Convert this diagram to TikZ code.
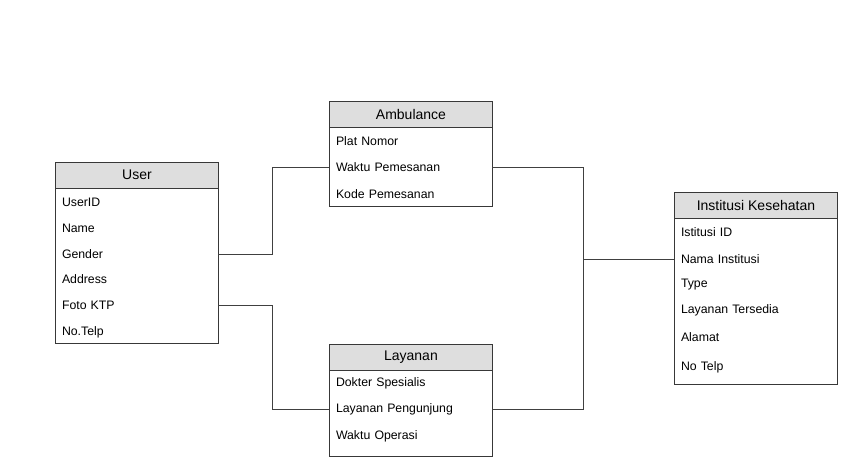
\documentclass[tikz,border=0pt]{standalone}
\usepackage{fontspec}
\setmainfont{Liberation Sans}
\begin{document}
\begin{tikzpicture}[x=1pt,y=-1pt,
  box/.style={draw=black!78, line width=0.9pt, fill=white, inner sep=0pt, anchor=north west, minimum width=162.4pt},
  hdr/.style={draw=black!78, line width=0.9pt, fill=black!13, inner sep=0pt, anchor=north west, minimum width=162.4pt, minimum height=26pt, font=\fontsize{14}{16}\selectfont, text=black},
  row/.style={anchor=west, inner xsep=6.5pt, inner ysep=0pt, text width=149.4pt, align=left, font=\fontsize{12.3}{14}\selectfont, text=black},
  conn/.style={draw=black!75, line width=0.9pt}]
\fill[white] (0,0) rectangle (847,464);
\useasboundingbox (0,0) rectangle (847,464);

% User
\node[box, minimum height=181.6pt] (user) at (55.3,161.7) {};
\node[hdr] (userh) at (55.3,161.7) {User};
\node[row] (u1) at (55.3,202) {UserID};
\node[row] (u2) at (55.3,228.5) {Name};
\node[row] (u3) at (55.3,254.3) {Gender};
\node[row] (u4) at (55.3,279.5) {Address};
\node[row] (u5) at (55.3,305.3) {Foto KTP};
\node[row] (u6) at (55.3,332.5) {No.Telp};

% Ambulance
\node[box, minimum height=105.3pt] (amb) at (329.3,100.7) {};
\node[hdr] (ambh) at (329.3,100.7) {Ambulance};
\node[row] (a1) at (329.3,141) {Plat Nomor};
\node[row] (a2) at (329.3,167.3) {Waktu Pemesanan};
\node[row] (a3) at (329.3,193.7) {Kode Pemesanan};

% Layanan
\node[box, minimum height=111.7pt] (lay) at (329.3,344) {};
\node[hdr] (layh) at (329.3,344) {Layanan};
\node[row] (l1) at (329.3,383.3) {Dokter Spesialis};
\node[row] (l2) at (329.3,409.5) {Layanan Pengunjung};
\node[row] (l3) at (329.3,436.7) {Waktu Operasi};

% Institusi Kesehatan
\node[box, minimum height=191.7pt] (ins) at (674.3,192.3) {};
\node[hdr] (insh) at (674.3,192.3) {Institusi Kesehatan};
\node[row] (i1) at (674.3,232.3) {Istitusi ID};
\node[row] (i2) at (674.3,259) {Nama Institusi};
\node[row] (i3) at (674.3,285) {Type};
\node[row] (i4) at (674.3,310.7) {Layanan Tersedia};
\node[row] (i5) at (674.3,336.7) {Alamat};
\node[row] (i6) at (674.3,367.7) {No Telp};

% connectors
\coordinate (hub) at (583.7,259);
\draw[conn] (u3.east) -- ++(54.6,0) |- (a2.west);
\draw[conn] (u5.east) -- ++(54.6,0) |- (l2.west);
\draw[conn] (a2.east) -| (hub) |- (l2.east);
\draw[conn] (hub) -- (i2.west);
\end{tikzpicture}
\end{document}
